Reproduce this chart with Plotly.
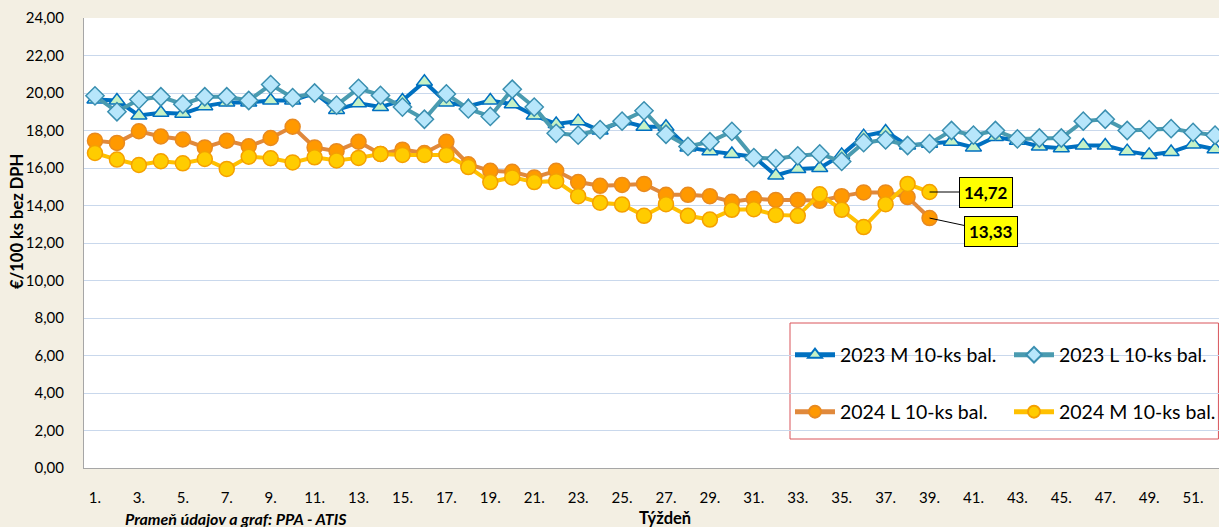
import plotly.graph_objects as go

weeks = list(range(1, 53))

m2023 = [19.65, 19.6, 18.8, 18.95, 18.9, 19.3, 19.5, 19.5, 19.6, 19.6, 20.0, 19.1, 19.45,
         19.25, 19.6, 20.6, 19.5, 19.3, 19.6, 19.4, 18.8, 18.35, 18.5, 18.0, 18.5, 18.2,
         18.2, 17.1, 16.9, 16.75, 16.6, 15.6, 15.95, 16.0, 16.7, 17.7, 17.95, 17.2, 17.3,
         17.4, 17.1, 17.65, 17.45, 17.15, 17.05, 17.2, 17.2, 16.9, 16.7, 16.85, 17.25, 17.0]

l2023 = [19.85, 19.0, 19.65, 19.8, 19.4, 19.8, 19.8, 19.6, 20.45, 19.75, 20.0, 19.35, 20.25,
         19.87, 19.25, 18.6, 19.95, 19.15, 18.75, 20.2, 19.25, 17.85, 17.75, 18.05, 18.5, 19.05,
         17.8, 17.15, 17.4, 17.95, 16.55, 16.5, 16.65, 16.75, 16.35, 17.35, 17.5, 17.2, 17.3,
         18.0, 17.75, 18.0, 17.55, 17.6, 17.6, 18.5, 18.6, 18.0, 18.05, 18.1, 17.9, 17.75]

l2024 = [17.46, 17.34, 17.96, 17.68, 17.52, 17.1, 17.46, 17.16, 17.6, 18.2, 17.1, 16.9, 17.4,
         16.75, 16.98, 16.8, 17.4, 16.2, 15.85, 15.8, 15.5, 15.85, 15.25, 15.05, 15.1, 15.15,
         14.57, 14.57, 14.5, 14.2, 14.36, 14.3, 14.3, 14.25, 14.5, 14.7, 14.7, 14.45, 13.33]

m2024 = [16.8, 16.45, 16.16, 16.36, 16.25, 16.48, 15.95, 16.6, 16.52, 16.3, 16.57, 16.4, 16.54,
         16.75, 16.7, 16.7, 16.7, 16.05, 15.25, 15.5, 15.25, 15.3, 14.5, 14.15, 14.05, 13.45,
         14.07, 13.45, 13.25, 13.77, 13.8, 13.5, 13.45, 14.6, 13.77, 12.85, 14.07, 15.15, 14.72]

names = ["2023 M 10-ks bal.", "2023 L 10-ks bal.", "2024 L 10-ks bal.", "2024 M 10-ks bal."]
tick_vals = list(range(1, 52, 2))
tick_text = [f"{w}." for w in tick_vals]
y_ticks = [i * 2 for i in range(13)]

FONT = "Lato, 'Open Sans', sans-serif"

fig = go.Figure()
fig.add_trace(go.Scatter(
    x=weeks, y=m2023, name=names[0], mode="lines+markers", legend="legend",
    line=dict(color="#0070C0", width=4),
    marker=dict(symbol="triangle-up", size=14, color="#C6F2C6", line=dict(color="#0070C0", width=1.5))))
fig.add_trace(go.Scatter(
    x=weeks, y=l2023, name=names[1], mode="lines+markers", legend="legend",
    line=dict(color="#4A9BB0", width=4),
    marker=dict(symbol="diamond", size=14, color="#B7E6FB", line=dict(color="#3A8FB0", width=1.5))))
fig.add_trace(go.Scatter(
    x=weeks[:len(l2024)], y=l2024, name=names[2], mode="lines+markers", legend="legend2",
    line=dict(color="#E0893C", width=4),
    marker=dict(symbol="circle", size=15, color="#FF9900", line=dict(color="#E88A20", width=1.5))))
fig.add_trace(go.Scatter(
    x=weeks[:len(m2024)], y=m2024, name=names[3], mode="lines+markers", legend="legend2",
    line=dict(color="#FFC000", width=4),
    marker=dict(symbol="circle", size=15, color="#FFCC00", line=dict(color="#F5A000", width=1.5))))

annots = [
    dict(x=len(m2024), y=m2024[-1], text="<b>14,72</b>", ax=56, ay=0),
    dict(x=len(l2024), y=l2024[-1], text="<b>13,33</b>", ax=61, ay=13),
]
for a in annots:
    fig.add_annotation(x=a["x"], y=a["y"], text=a["text"], ax=a["ax"], ay=a["ay"],
                       axref="pixel", ayref="pixel", showarrow=True, arrowhead=0,
                       arrowwidth=1, arrowcolor="black", bgcolor="#FFFF00",
                       bordercolor="black", borderwidth=1, borderpad=4,
                       font=dict(family=FONT, size=17, color="black"))

fig.add_annotation(text="<b>€/100 ks bez DPH</b>", xref="paper", yref="paper",
                   x=(17 - 84) / 1135, y=(468 - 222) / 450, xanchor="center", yanchor="middle",
                   textangle=-90, showarrow=False,
                   font=dict(family=FONT, size=16.5, color="black"))
fig.add_annotation(text="<b>Týždeň</b>", xref="paper", yref="paper",
                   x=(665 - 84) / 1135, y=-(518 - 468) / 450, xanchor="center", yanchor="middle",
                   showarrow=False, font=dict(family=FONT, size=16.5, color="black"))
fig.add_annotation(text="<b><i>Prameň údajov a graf: PPA - ATIS</i></b>", xref="paper", yref="paper",
                   x=(236 - 84) / 1135, y=-(518 - 468) / 450, xanchor="center", yanchor="middle",
                   showarrow=False, font=dict(family=FONT, size=16, color="black"))

fig.add_shape(type="rect", xref="paper", yref="paper",
              x0=(790 - 84) / 1135, x1=0.9995, y0=(468 - 439) / 450, y1=(468 - 323) / 450,
              line=dict(color="#D9545A", width=1), fillcolor="white", layer="below")

legend_common = dict(orientation="h", xanchor="left", yanchor="middle",
                     bgcolor="rgba(0,0,0,0)", borderwidth=0, itemsizing="constant",
                     font=dict(family=FONT, size=19.5, color="black"),
                     entrywidth=164, entrywidthmode="pixels", itemwidth=40)

fig.update_layout(
    width=1219, height=527,
    margin=dict(l=84, r=0, t=18, b=59, autoexpand=False),
    paper_bgcolor="#F3EFE3", plot_bgcolor="white",
    separators=", ",
    showlegend=True,
    legend=dict(x=(790 - 84) / 1135, y=(468 - 355) / 450, **legend_common),
    legend2=dict(x=(790 - 84) / 1135, y=(468 - 412) / 450, **legend_common),
    xaxis=dict(range=[0.5, 52.18], tickmode="array", tickvals=tick_vals, ticktext=tick_text,
               showgrid=False, zeroline=False, showline=True, linecolor="#A6A6A6", linewidth=1,
               ticks="outside", ticklen=16, tickcolor="rgba(0,0,0,0)",
               tickfont=dict(family=FONT, size=15, color="black")),
    yaxis=dict(range=[0, 24], tickmode="array", tickvals=y_ticks, tickformat=".2f",
               showgrid=True, gridcolor="#C9D8EC", gridwidth=1, zeroline=False,
               showline=True, linecolor="#A6A6A6", linewidth=1,
               ticks="outside", ticklen=16, tickcolor="rgba(0,0,0,0)",
               tickfont=dict(family=FONT, size=15, color="black")),
)

fig.write_html("out.html", config={"displayModeBar": False},
               post_script="document.body.style.margin='0';document.body.style.overflow='hidden';")
